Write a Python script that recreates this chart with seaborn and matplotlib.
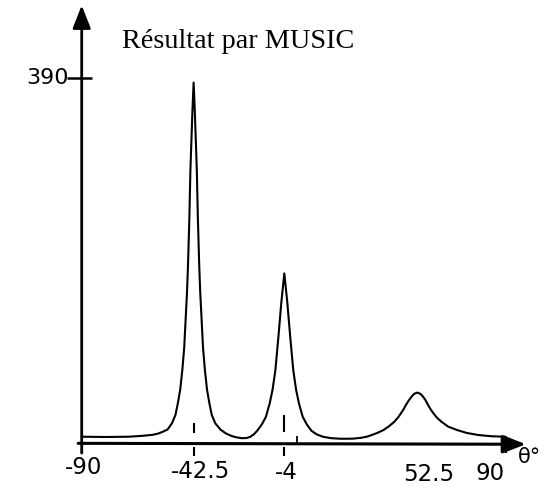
import matplotlib
matplotlib.use("Agg")
import matplotlib.pyplot as plt
import pandas as pd
import seaborn as sns

# ---- data (angle in degrees, MUSIC pseudo-spectrum) ----
theta = [-90, -80, -70, -64, -60, -57.5, -55.5, -53.5, -51.7, -50.2, -49.2, -48.2,
         -47.3, -46.5, -45.9, -45.3, -44.9, -44.3, -43.86, -43.0, -42.5, -42.0,
         -41.14, -40.7, -40.1, -39.7, -39.1, -38.5, -37.7, -36.8, -35.8, -34.8,
         -33.3, -31, -28.7, -26.5, -24.5, -22, -20, -18.5, -17, -15.5, -13.5,
         -11.8, -10.2, -9, -7.8, -6.5, -5.3, -4, -2.7, -1.5, -0.2, 1.0, 2.2, 3.8,
         5.5, 7.5, 9.8, 12.5, 16, 20, 25, 28.5, 31, 33.1, 35.6, 38.1, 40.5, 42.7,
         44.2, 45.5, 46.6, 47.6, 48.8, 50, 51.2, 52.5, 53.8, 54.9, 56, 57, 58.1,
         59.3, 60.8, 62.7, 65.5, 69.3, 73.5, 78.4, 84, 90]
power = [4.6, 4.3, 4.6, 5.6, 6.6, 8, 10, 12.5, 19, 28, 40.5, 55,
         76, 100, 130, 160, 187, 240, 291, 355, 385, 355,
         291, 240, 187, 160, 130, 100, 76, 55, 40.5, 28,
         19, 12, 8, 5.5, 4, 3, 3.2, 4.5, 7, 11, 18,
         26, 40.5, 55, 76, 112, 148, 180, 148, 112, 76, 55, 40.5, 26,
         18, 11, 7, 4.5, 3, 2.4, 2.5, 3.4, 4.6, 6.4, 8.8, 11.8, 16, 20.7,
         25, 29.7, 34, 38.7, 43.5, 47.6, 50.8, 52, 50.6, 47.6, 43.5, 38.7, 34,
         29.7, 25, 20.7, 15.5, 11.8, 8.6, 6.4, 5.1, 4.5]

x_ticks = [-90, -42.5, -4, 52.5, 90]
x_tick_labels = ["-90", "-42.5", "-4", "52.5", "90"]
minor_x_ticks = [0]
y_ticks = [390]
y_tick_labels = ["390"]
title = "Résultat par MUSIC"
x_axis_label = "θ°"

# ---- styling (positions of decorations only) ----
label_dx = {"-90": 1.0, "-42.5": 3.0, "-4": 0.7, "52.5": 5.0, "90": -6.7}
label_y = {"-90": -29, "-42.5": -33, "-4": -34, "52.5": -36, "90": -35}
tick_marks = {
    "-90": [(-13, -2.5)],
    "-42.5": [(8.6, 19), (-16, -6.4)],
    "-4": [(9.7, 28), (-16, -6.4)],
    "52.5": [],
    "90": [(-13, -2.5)],
}
axis_y = -2.5

sns.set_theme(style="white")
plt.rcParams["font.family"] = ["DejaVu Sans"]

fig = plt.figure(figsize=(5.48, 4.86), dpi=100)
ax = fig.add_axes([0, 0, 1, 1])
ax.set_xlim(-124.68, 107.92)
ax.set_ylim(-48.34, 473.68)
ax.axis("off")

df = pd.DataFrame({"theta": theta, "P": power})
sns.lineplot(data=df, x="theta", y="P", ax=ax, color="black", lw=1.5,
             sort=False, estimator=None)

# axes with arrows
ax.annotate("", xy=(x_ticks[0], 468), xytext=(x_ticks[0], -13),
            arrowprops=dict(arrowstyle="-|>,head_length=1.4,head_width=0.55",
                            mutation_scale=10, lw=2.0, color="black",
                            shrinkA=0, shrinkB=0))
ax.annotate("", xy=(98.5, axis_y - 1), xytext=(x_ticks[0] - 1.5, axis_y),
            arrowprops=dict(arrowstyle="-|>,head_length=1.4,head_width=0.55",
                            mutation_scale=10, lw=2.2, color="black",
                            shrinkA=0, shrinkB=0))

# x ticks and labels
for xv, lab in zip(x_ticks, x_tick_labels):
    for lo, hi in tick_marks[lab]:
        ax.vlines(xv, lo, hi, color="black", lw=1.5)
    ax.text(xv + label_dx[lab], label_y[lab], lab, ha="center", va="center",
            fontsize=16.5, color="black")
for xv in minor_x_ticks:
    ax.vlines(xv + 1.2, axis_y, 5, color="black", lw=1.3)

ax.text(100.0, -17, x_axis_label, ha="center", va="center", fontsize=15,
        color="black")

# y tick and label
for yv, lab in zip(y_ticks, y_tick_labels):
    ax.hlines(yv, -96.2, -85.6, color="black", lw=1.8)
    ax.text(-104.5, yv, lab, ha="center", va="center", fontsize=16,
            color="black")

fig.text(121.7 / 548, 1 - 48 / 486, title, ha="left", va="baseline",
         fontsize=20.3, family=["Liberation Serif", "DejaVu Serif"],
         color="black")

fig.savefig("out.png", dpi=100)
